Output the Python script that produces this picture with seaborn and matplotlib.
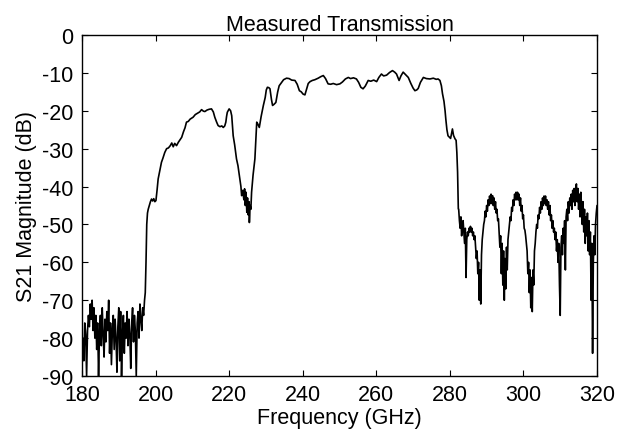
import numpy as np
import pandas as pd
import matplotlib
matplotlib.use("Agg")
import matplotlib.pyplot as plt
import seaborn as sns

# ---- data ----
# low stop band, 180-197 GHz, 0.25 GHz steps
s21_low = [
    -84, -80, -86, -76,
    -79, -90, -78, -74,
    -77, -71, -75, -70,
    -78, -72, -80, -74,
    -83, -76, -90, -79,
    -74, -82, -72, -79,
    -85, -75, -81, -73,
    -78, -70, -84, -76,
    -87, -78, -74, -83,
    -75, -80, -89, -77,
    -72, -86, -73, -90,
    -79, -74, -84, -76,
    -80, -73, -82, -75,
    -79, -88, -76, -72,
    -81, -74, -78, -90,
    -76, -73, -80, -71,
    -75, -78, -72, -74,
    -70,
]
freq_low_start, freq_low_end = 180.0, 197.0

# transition + pass band (traced points)
freq_mid = [
    197.2, 197.4, 197.6, 197.8, 198.0, 198.3, 198.6, 198.9, 199.2, 199.5,
    199.8, 200.1, 200.4, 200.7, 201.0, 201.3, 201.6, 202.0, 202.5, 203.0,
    203.5, 204.0, 204.4, 204.8, 205.2, 205.7, 206.2, 206.7, 207.1, 207.6,
    208.0, 208.4, 208.9, 209.4, 210.2, 210.8, 211.5, 212.0, 212.5, 213.0,
    213.4, 214.0, 214.6, 215.2, 215.7, 216.1, 216.6, 217.0, 217.5, 218.0,
    218.4, 218.8, 219.1, 219.3, 219.5, 220.0, 220.4, 220.7, 221.1, 221.5,
    222.0, 222.4, 222.9, 223.2, 223.4, 223.7, 224.0, 224.2, 224.4, 224.6,
    224.8, 225.0, 225.2, 225.4, 225.5, 225.7, 225.9, 226.1, 226.5, 227.0,
    227.3, 227.5, 227.8, 228.2, 228.7, 229.3, 229.8, 230.1, 230.4, 230.8,
    231.1, 231.5, 231.8, 232.2, 232.7, 233.2, 233.6, 234.2, 234.8, 235.6,
    236.3, 237.0, 237.9, 238.5, 239.1, 239.6, 240.1, 240.6, 241.0, 241.5,
    242.0, 242.6, 243.3, 244.2, 244.9, 245.6, 246.2, 246.9, 247.6, 248.3,
    249.2, 250.1, 250.8, 251.6, 252.4, 253.0, 253.8, 254.6, 255.2, 255.8,
    256.4, 257.0, 257.8, 258.5, 259.3, 260.1, 260.7, 261.4, 262.0, 262.8,
    263.6, 264.4, 265.0, 265.5, 266.2, 266.7, 267.3, 268.0, 268.7, 269.4,
    270.0, 270.5, 271.0, 271.4, 272.0, 272.8, 273.6, 274.6, 275.5, 276.3,
    276.8, 277.3, 277.7, 278.0, 278.4, 278.7, 278.9, 279.2, 279.5, 279.9,
    280.2, 280.5, 280.7, 281.0, 281.4, 281.7, 281.9, 282.1, 282.3,
]
s21_mid = [
    -68, -60, -50, -47, -46, -45, -44, -43.3, -43.8, -43.2,
    -44, -43.7, -41, -38, -36.5, -35, -33.6, -32.5, -31, -30,
    -29.8, -29.2, -28.5, -29.5, -28.6, -29.2, -28.3, -27.6, -27, -25.5,
    -24.5, -23, -22.8, -22.2, -21.7, -21.0, -20.6, -20.3, -19.7, -20.1,
    -20.2, -19.8, -19.6, -19.5, -20.3, -21.7, -23, -23.9, -24.2, -24.0,
    -24.4, -24.0, -23, -21.5, -20.4, -19.5, -20.0, -21.3, -26.6, -29,
    -32.7, -34.5, -38, -40, -42.4, -41, -43.5, -40.6, -45, -41.5,
    -46.8, -43, -47.5, -44, -49.5, -45, -46, -41.5, -37, -32.7,
    -27, -23, -23.5, -24.4, -21.5, -18.6, -16.5, -14.5, -13.8, -13.9,
    -14.2, -17, -18.6, -18.3, -17.8, -15, -13.4, -12.6, -11.8, -11.4,
    -11.5, -11.9, -12.0, -13, -14.7, -15, -15.6, -15.8, -14.5, -12.8,
    -12.3, -12.0, -11.8, -11.4, -11.0, -10.7, -11.5, -12.9, -13.0, -12.8,
    -13.1, -12.9, -12.4, -11.6, -11.2, -11.5, -11.3, -11.6, -12.5, -13.8,
    -14.2, -13.5, -12.0, -12.2, -11.9, -12.3, -11.2, -10.3, -10.8, -10.6,
    -9.9, -9.4, -9.8, -10.3, -12.0, -10.8, -9.8, -10.5, -11.2, -12.8,
    -14.0, -14.7, -14.5, -14.1, -12.5, -11.2, -11.5, -11.6, -11.4, -11.7,
    -11.6, -12.0, -13.4, -15.5, -17.5, -20, -22.2, -25, -26.6, -27.0,
    -27.3, -25.8, -24.8, -26.5, -27.4, -27.8, -31, -36.2, -45.9,
]

# high stop band, 282.4-320 GHz, 0.2 GHz steps
s21_high = [
    -46, -49, -51, -48, -53,
    -50, -49, -52, -55, -51,
    -64, -54, -52, -53, -51,
    -52, -50.5, -52, -51, -53,
    -52, -54, -53, -56, -59,
    -57, -63, -60, -70, -62,
    -71, -58, -54, -52, -50,
    -49, -46.5, -48, -45, -46.5,
    -43.5, -45, -42.5, -44.5, -42,
    -44.5, -42.4, -45, -43, -46,
    -44, -47, -46, -49, -48.5,
    -52, -56, -53, -63, -55,
    -66, -57, -70, -59, -67,
    -56, -62, -54, -52, -50,
    -48, -49, -45.5, -46.5, -43.5,
    -45, -42, -43.5, -41.5, -43.5,
    -41.5, -43.5, -42, -45, -43,
    -46.5, -45, -48.5, -47.5, -51,
    -51.5, -53, -55, -57, -63,
    -60, -68, -62, -72, -64,
    -73, -62, -66, -57, -55,
    -52, -50, -51, -47.5, -48.5,
    -45.5, -47, -44, -46, -43,
    -45, -42.5, -44.5, -42.5, -45,
    -43.5, -46, -44, -47.5, -45,
    -49, -47.5, -51, -49, -52,
    -51, -54, -52, -57, -54,
    -60, -55, -66, -74, -56,
    -53, -58, -51, -55, -49,
    -62, -48, -46, -49, -44,
    -47, -43, -45, -42, -46,
    -41, -44, -40.5, -45, -41,
    -39.3, -44, -40.5, -46, -42,
    -48, -41.5, -45, -50, -44,
    -52, -46, -55, -48, -53,
    -47, -57, -49, -58, -52,
    -70, -55, -84, -60, -53,
    -58, -50, -47, -45,
]
freq_high_start, freq_high_end = 282.4, 320.0

x_ticks = [180, 200, 220, 240, 260, 280, 300, 320]
y_ticks = [0, -10, -20, -30, -40, -50, -60, -70, -80, -90]

freq = np.concatenate([
    np.linspace(freq_low_start, freq_low_end, len(s21_low)),
    np.array(freq_mid),
    np.linspace(freq_high_start, freq_high_end, len(s21_high)),
])
s21 = np.concatenate([s21_low, s21_mid, s21_high])
df = pd.DataFrame({"Frequency": freq, "S21": s21})

# ---- style ----
sns.set_theme(style="ticks")
plt.rcParams["font.family"] = ["Liberation Sans", "DejaVu Sans"]
plt.rcParams["font.size"] = 15.5
plt.rcParams["xtick.direction"] = "in"
plt.rcParams["ytick.direction"] = "in"

fig = plt.figure(figsize=(6.26, 4.35), dpi=100)
ax = fig.add_axes([82 / 626, 1 - 377 / 435, (597 - 82) / 626, (377 - 36) / 435])

sns.lineplot(data=df, x="Frequency", y="S21", ax=ax, color="black",
             linewidth=1.2, sort=False, estimator=None)

ax.set_xlim(180, 320)
ax.set_ylim(-90, 0)
ax.set_xticks(x_ticks)
ax.set_yticks(y_ticks)
ax.set_xticklabels([str(t) for t in x_ticks], fontsize=15.5)
ax.set_yticklabels([str(t) for t in y_ticks], fontsize=15.5)
ax.tick_params(axis="both", which="both", direction="in", length=4, width=0.8,
               top=True, right=True, colors="black", pad=6)
for sp in ax.spines.values():
    sp.set_visible(True)
    sp.set_color("black")
    sp.set_linewidth(1.0)

ax.set_title("Measured Transmission", fontsize=15.5, pad=3, color="black")
ax.set_xlabel("Frequency (GHz)", fontsize=15.5, labelpad=1, color="black")
ax.set_ylabel("S21 Magnitude (dB)", fontsize=15.5, labelpad=4, color="black")

fig.savefig("out.png", dpi=100, facecolor="white")
